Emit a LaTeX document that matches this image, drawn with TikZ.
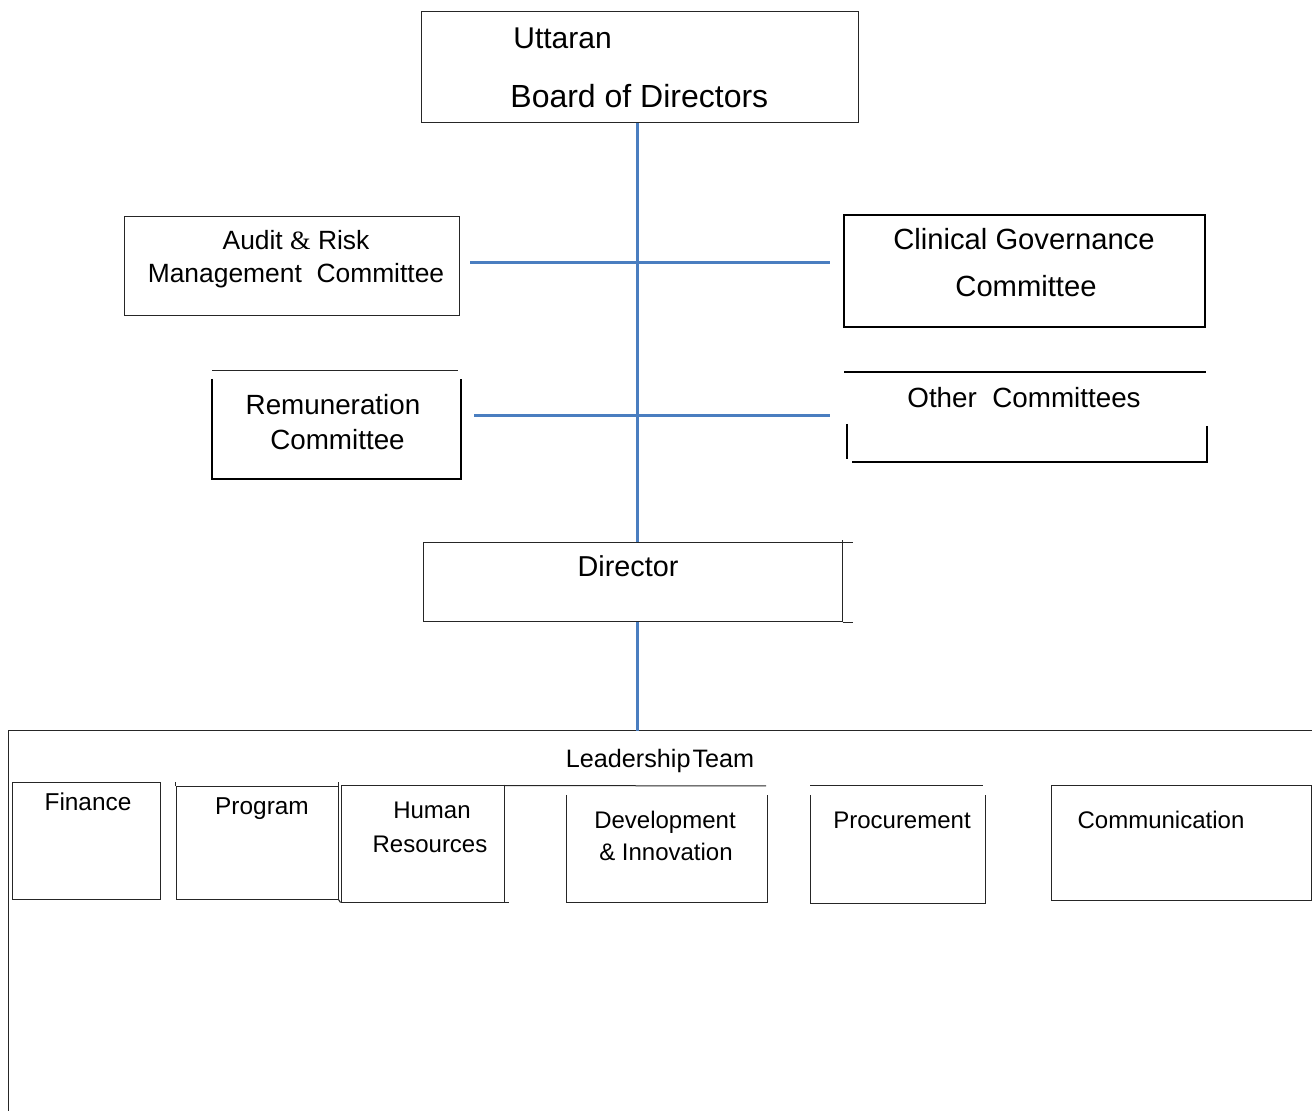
\documentclass[tikz,border=0pt]{standalone}
\usepackage{fontspec}
\setmainfont{Liberation Sans}
\newfontfamily\ampfont{Liberation Serif}
\usepackage{tikz}
\definecolor{linkblue}{RGB}{74,126,192}
\newcommand{\fsz}[1]{\fontsize{#1}{#1}\selectfont}

\begin{document}
\begin{tikzpicture}[x=0.5pt, y=-0.5pt]
    \tikzstyle{unit} = [rectangle, draw=black!85, line width=0.5pt, inner sep=0pt]
    \tikzstyle{boldunit} = [unit, draw=black, line width=1pt]
    \tikzstyle{txt} = [inner sep=0pt, anchor=base]
    \tikzstyle{link} = [draw=linkblue, line width=1.5pt]
    \tikzstyle{rule} = [draw=black!85, line width=0.5pt]
    \tikzstyle{boldrule} = [draw=black, line width=1pt]
    \useasboundingbox (0,0) rectangle (1312,1111);

    % boxes
    \node[unit, minimum width=218.5pt, minimum height=55.5pt] (board) at (639.5,67.5) {};
    \node[unit, minimum width=167.5pt, minimum height=49.5pt] (audit) at (291.5,266.5) {};
    \node[boldunit, minimum width=180.5pt, minimum height=56pt] (clinical) at (1024.5,271) {};
    \node[unit, minimum width=209.5pt, minimum height=39.5pt] (dir) at (632.5,582.5) {};
    \node[unit, minimum width=74pt, minimum height=58pt] (fin) at (86,841) {};
    \node[unit, minimum width=81pt, minimum height=56pt] (prog) at (257,843) {};
    \node[unit, minimum width=81.5pt, minimum height=58pt] (hr) at (422.5,844) {};
    \node[unit, minimum width=130pt, minimum height=57pt] (comm) at (1181,843) {};

    % open boxes
    \draw[rule] (212,371) -- (458,371);
    \draw[boldrule] (212,379) -- (212,479) -- (461,479) -- (461,379);
    \draw[boldrule] (844,372) -- (1206,372);
    \draw[boldrule] (847,424) -- (847,459);
    \draw[boldrule] (1207,426) -- (1207,462) -- (852,462);
    \draw[rule] (hr.north east) -- (766,786);
    \draw[rule] (566,795) -- (566,902) -- (767,902) -- (767,795);
    \draw[rule] (810,786) -- (983,786);
    \draw[rule] (810,795) -- (810,903) -- (985,903) -- (985,795);
    \draw[rule] (dir.north east) -- ++(10,0);
    \draw[rule] (dir.south east) -- ++(10,0);
    \draw[rule] (dir.north east) -- ++(0,-2);
    \draw[rule] (prog.north west) -- ++(0,-4);
    \draw[rule] (prog.north east) -- ++(0,-4);
    \draw[rule] (prog.south east) -- (hr.south west);
    \draw[rule] (hr.south east) -- ++(4,0);

    % leadership frame
    \coordinate (lead) at (637,731);
    \draw[rule] (8,1111) -- (8,731) -- (1312,731);

    % blue links
    \coordinate (spine) at (637,0);
    \draw[link] (board.south -| spine) -- (dir.north -| spine);
    \draw[link] (dir.south -| spine) -- (lead);
    \coordinate (arm1l) at (470,263);
    \coordinate (arm1r) at (830,263);
    \coordinate (arm2l) at (474,416);
    \coordinate (arm2r) at (830,416);
    \draw[link] (arm1l) -- (arm1r);
    \draw[link] (arm2l) -- (arm2r);

    % labels
    \node[txt, anchor=base west, font=\fsz{15}] (t1) at (513,49) {Uttaran};
    \node[txt, anchor=base west, font=\fsz{16}] (t2) at (510,108) {Board of\ Directors};
    \node[txt, font=\fsz{13.2}] (t3) at (296,250) {Audit {\ampfont\&} Risk};
    \node[txt, font=\fsz{13.2}] (t4) at (296,283) {Management\ \ Committee};
    \node[txt, font=\fsz{14.6}] (t5) at (1024,250) {Clinical Governance};
    \node[txt, font=\fsz{14.6}] (t6) at (1026,297) {Committee};
    \node[txt, font=\fsz{13.9}] (t7) at (333,415) {Remuneration};
    \node[txt, font=\fsz{13.9}] (t8) at (337.5,450) {Committee};
    \node[txt, font=\fsz{13.9}] (t9) at (1024,408) {Other\ \ Committees};
    \node[txt, font=\fsz{14.4}] (t10) at (628,577) {Director};
    \node[txt, font=\fsz{12.6}] (t11) at (660,768) {Leadership\kern1pt Team};
    \node[txt, font=\fsz{12.2}] (t12) at (88,811) {Finance};
    \node[txt, font=\fsz{12.2}] (t13) at (262,815) {Program};
    \node[txt, font=\fsz{12}] (t14) at (432,819) {Human};
    \node[txt, font=\fsz{12}] (t15) at (430,852) {Resources};
    \node[txt, font=\fsz{12}] (t16) at (665,828) {Development};
    \node[txt, font=\fsz{12}] (t17) at (666,861) {\& Innovation};
    \node[txt, font=\fsz{12}] (t18) at (902,828) {Procurement};
    \node[txt, font=\fsz{12}] (t19) at (1161,828) {Communication};
\end{tikzpicture}
\end{document}
